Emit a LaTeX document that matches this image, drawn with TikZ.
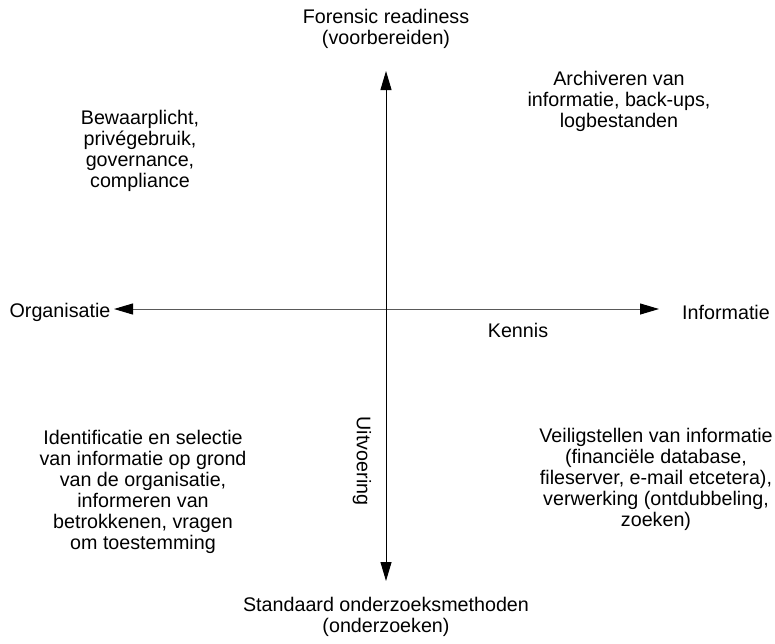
\documentclass[tikz,border=0pt]{standalone}
\usepackage{fontspec}
\setmainfont{Liberation Sans}
\usetikzlibrary{arrows.meta}
\tikzset{tekst/.style={align=center, inner sep=0pt, font=\fontsize{9.85}{10.5}\selectfont}}
\tikzset{as/.style={line width=0.5pt,
  {Triangle[length=9.5pt,width=5.5pt,color=black]}-{Triangle[length=9.5pt,width=5.5pt,color=black]}}}

\begin{document}
\begin{tikzpicture}[x=0.5pt, y=-0.5pt]
      \useasboundingbox (0,0) rectangle (775,643);

      \coordinate (west) at (114,309);
      \coordinate (oost) at (659,309);
      \coordinate (noord) at (386,71);
      \coordinate (zuid) at (386,581);

      \draw [as, black!65] (west) -- (oost);
      \draw [as, black] (noord) -- (zuid);

      \node [tekst] (org) at (60,312) {Organisatie};
      \node [tekst] (inf) at (726,312) {Informatie};
      \node [tekst] (fr) at (386,29) {Forensic readiness\\(voorbereiden)};
      \node [tekst] (som) at (386,617) {Standaard onderzoeksmethoden\\(onderzoeken)};
      \node [tekst] (ken) at (518,330) {Kennis};
      \node [tekst, rotate=-90] (uit) at (362,461) {Uitvoering};

      \node [tekst] (bew) at (140,151) {Bewaarplicht,\\privégebruik,\\governance,\\compliance};
      \node [tekst] (arch) at (619,101) {Archiveren van\\informatie, back-ups,\\logbestanden};
      \node [tekst] (ident) at (143,492) {Identificatie en selectie\\van informatie op grond\\van de organisatie,\\informeren van\\betrokkenen, vragen\\om toestemming};
      \node [tekst] (veil) at (656,479) {Veiligstellen van informatie\\(financiële database,\\fileserver, e-mail etcetera),\\verwerking (ontdubbeling,\\zoeken)};
    \end{tikzpicture}
\end{document}
